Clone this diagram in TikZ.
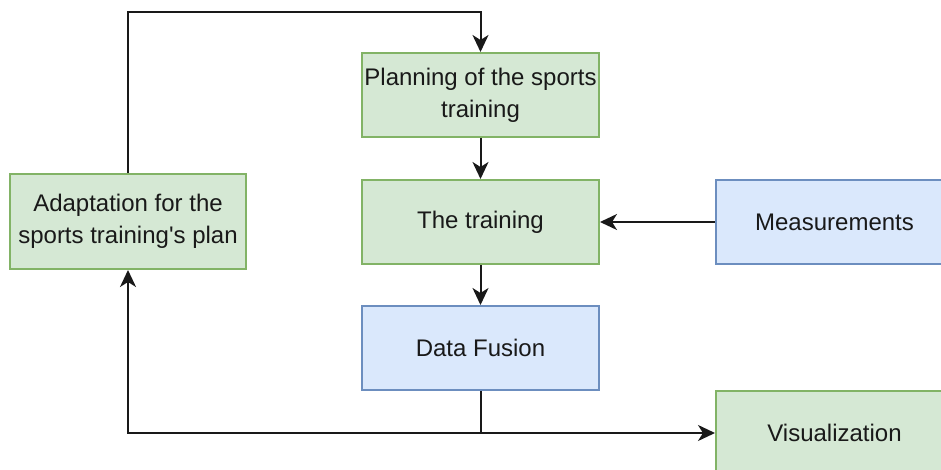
\documentclass[tikz,border=0pt]{standalone}
\usepackage{fontspec}
\setmainfont{Liberation Sans}
\usetikzlibrary{arrows.meta, positioning}
\definecolor{greenfill}{HTML}{D5E8D4}
\definecolor{greenline}{HTML}{82B366}
\definecolor{bluefill}{HTML}{DAE8FC}
\definecolor{blueline}{HTML}{6C8EBF}

\begin{document}
\begin{tikzpicture}[
    x=1pt, y=-1pt,
    node distance=127pt,
    on grid,
    every node/.style={font=\fontsize{24}{32}\selectfont, text=black!90},
    greenbox/.style={draw=greenline, fill=greenfill, line width=2pt, minimum width=237pt, minimum height=84pt, align=center, inner sep=2pt},
    bluebox/.style={greenbox, draw=blueline, fill=bluefill},
    link/.style={line width=2pt, draw=black!90},
    arr/.style={link, -{Stealth[length=17pt, width=16pt, inset=5pt]}}
]
   \useasboundingbox (0,0) rectangle (941,470);
   \clip (0,0) rectangle (941,470);

   % Boxes
   \node[greenbox] (plan) at (480.5,95) {Planning of the sports\\training};
   \node[greenbox] (train) [below=of plan] {The training};
   \node[bluebox] (fusion) [below=126pt of train] {Data Fusion};
   \node[bluebox] (meas) [right=354pt of train] {Measurements};
   \node[greenbox] (vis) [below right=85pt and 354pt of fusion] {Visualization};
   \node[greenbox, minimum width=236pt, minimum height=95pt] (adapt) at (128,221.5) {Adaptation for the\\sports training\textquotesingle s plan};

   % Connectors
   \coordinate (junc) at (fusion.south |- vis.west);

   \draw[arr] (plan) -- (train);
   \draw[arr] (train) -- (fusion);
   \draw[arr] (meas) -- (train);
   \draw[link] (fusion) -- (junc);
   \draw[arr] (junc) -| (adapt);
   \draw[arr] (junc) -- (vis);
   \draw[arr] (adapt.north) -- ++(0,-161) -| (plan.north);

\end{tikzpicture}
\end{document}
